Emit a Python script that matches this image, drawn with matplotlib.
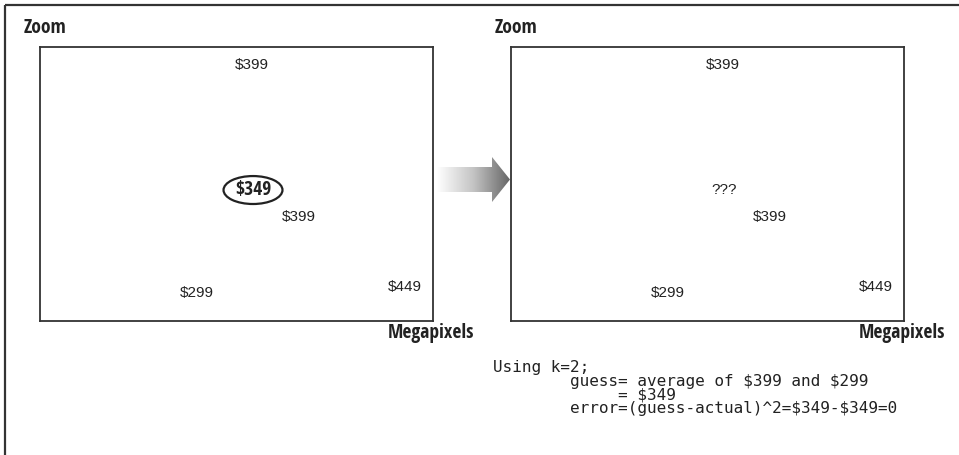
import numpy as np
import matplotlib
matplotlib.use("Agg")
import matplotlib.pyplot as plt
from matplotlib import font_manager
from matplotlib.patches import Ellipse, Polygon
from matplotlib.colors import LinearSegmentedColormap

# neighbour prices placed on the megapixel / zoom plane
prices = ["$399", "$399", "$299", "$449"]
megapixels = [5.39, 6.59, 4.00, 9.29]
zoom = [9.34, 3.80, 1.02, 1.24]

# the item being predicted
target_mp = 5.42
target_zoom = 4.78
guess_left = "$349"
guess_right = "???"

code_lines = [
    "Using k=2;",
    "        guess= average of $399 and $299",
    "             = $349",
    "        error=(guess-actual)^2=$349-$349=0",
]

W, H = 959, 455
fig = plt.figure(figsize=(W / 100, H / 100), dpi=100)

# pick condensed faces if the system has them
faces = {}
for f in font_manager.fontManager.ttflist:
    faces.setdefault(f.name, set()).add(f.weight if isinstance(f.weight, int) else 400)

cands = ["Liberation Sans Narrow", "DejaVu Sans Condensed", "Open Sans Condensed"]
bold_font, bold_size = "Liberation Sans", 12.5
reg_font, reg_weight, reg_size = "Liberation Sans", "normal", 11
for c in cands:
    if c in faces and any(w >= 600 for w in faces[c]):
        bold_font, bold_size = c, 14
        break
for c in cands:
    if c in faces and any(300 <= w < 600 for w in faces[c]):
        reg_font = c
        reg_weight = min((w for w in faces[c] if 300 <= w < 600), key=lambda w: abs(w - 400))
        reg_size = 12.5
        break
mono = ["DejaVu Sans Mono", "Liberation Mono"]


def label(ax, x, y, s, bold=False, **kw):
    if bold:
        ax.text(x, y, s, family=bold_font, fontweight="bold", fontsize=kw.pop("size", bold_size),
                color="#222222", parse_math=False, **kw)
    else:
        ax.text(x, y, s, family=reg_font, fontweight=reg_weight, fontsize=reg_size,
                color="#222222", parse_math=False, **kw)


def panel(x0, guess, circled):
    ax = fig.add_axes([x0 / W, (H - 321) / H, 393 / W, 274 / H])
    ax.set_xlim(0, 10)
    ax.set_ylim(0, 10)
    ax.set_xticks([])
    ax.set_yticks([])
    for s in ax.spines.values():
        s.set_linewidth(1.3)
        s.set_color("#333333")
    for p, x, y in zip(prices, megapixels, zoom):
        label(ax, x, y, p, ha="center", va="center")
    if circled:
        label(ax, target_mp, target_zoom, guess, bold=True,
              ha="center", va="center")
        ax.add_patch(Ellipse((target_mp, target_zoom), 1.5, 1.02, fill=False,
                             lw=1.6, ec="#222222"))
    else:
        label(ax, target_mp, target_zoom, guess, ha="center", va="center")
    label(ax, -16 / 393, 1.0 + 14 / 274, "Zoom", bold=True, transform=ax.transAxes,
          ha="left", va="baseline")
    label(ax, 1.0 + 41 / 393, -17 / 274, "Megapixels", bold=True, transform=ax.transAxes,
          ha="right", va="baseline")
    return ax


panel(40, guess_left, True)
panel(511, guess_right, False)

# overlay in pixel coordinates for the frame, arrow and notes
ov = fig.add_axes([0, 0, 1, 1], zorder=-1)
ov.set_xlim(0, W)
ov.set_ylim(H, 0)
ov.axis("off")
ov.plot([5, 5], [H, 5], color="#333333", lw=1.6, solid_capstyle="butt")
ov.plot([5, W], [5, 5], color="#333333", lw=1.6, solid_capstyle="butt")

arrow = Polygon([(437, 167), (492, 167), (492, 157), (510, 179.5),
                 (492, 202), (492, 192), (437, 192)], closed=True,
                facecolor="none", edgecolor="none")
ov.add_patch(arrow)
cmap = LinearSegmentedColormap.from_list("arr", ["#ffffff", "#c4c4c4", "#666666"])
grad = np.linspace(0, 1, 256).reshape(1, -1)
im = ov.imshow(grad, cmap=cmap, extent=[437, 510, 202, 157], aspect="auto")
im.set_clip_path(arrow)
ov.set_xlim(0, W)
ov.set_ylim(H, 0)

for i, line in enumerate(code_lines):
    ov.text(493, 372 + i * 13.7, line, ha="left", va="baseline",
            fontsize=11.5, family=mono, color="#222222", parse_math=False)

fig.savefig("out.png", dpi=100)
